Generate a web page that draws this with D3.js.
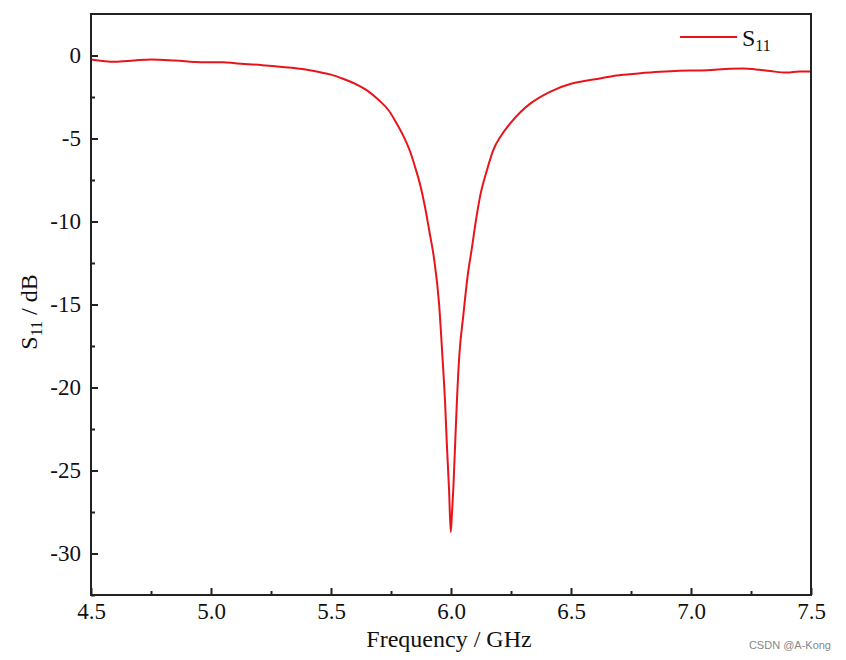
<!DOCTYPE html>
<html>
<head>
<meta charset="utf-8">
<script src="https://cdn.jsdelivr.net/npm/d3@7"></script>
<style>
  html, body { margin: 0; padding: 0; background: #fff; }
  svg text { font-family: "Liberation Serif", "Times New Roman", serif; fill: #111; }
</style>
</head>
<body>
<div id="chart"></div>
<script>
// Frequency (GHz) and S11 (dB)
const freq = [4.50, 4.60, 4.68, 4.75, 4.85, 4.96, 5.05, 5.10, 5.24, 5.38, 5.45, 5.50, 5.55, 5.60,
  5.65, 5.70, 5.74, 5.77, 5.80, 5.83, 5.85, 5.87, 5.89, 5.91, 5.93, 5.95, 5.965, 5.975, 5.983,
  5.992, 5.999, 6.004, 6.010, 6.017, 6.025, 6.035, 6.051, 6.07, 6.086, 6.10, 6.121, 6.15, 6.176,
  6.21, 6.246, 6.29, 6.33, 6.41, 6.50, 6.55, 6.62, 6.69, 6.78, 6.87, 6.95, 7.04, 7.10, 7.16,
  7.22, 7.27, 7.33, 7.40, 7.45, 7.50];
const s11 = [-0.24, -0.38, -0.30, -0.24, -0.30, -0.40, -0.40, -0.46, -0.62, -0.82, -1.0, -1.15, -1.4, -1.7,
  -2.1, -2.7, -3.3, -4.0, -4.8, -5.8, -6.7, -7.7, -9.0, -10.6, -12.3, -14.9, -18.3, -20.8, -23.5,
  -26.2, -28.7, -27.6, -26.0, -23.5, -20.7, -18.0, -15.7, -13.2, -11.7, -10.3, -8.5, -6.9, -5.7,
  -4.8, -4.1, -3.4, -2.9, -2.2, -1.7, -1.55, -1.38, -1.2, -1.08, -0.98, -0.92, -0.9, -0.86, -0.8,
  -0.78, -0.84, -0.94, -1.03, -0.97, -0.96];

const xTicks = [4.5, 5.0, 5.5, 6.0, 6.5, 7.0, 7.5];
const yTicks = [0, -5, -10, -15, -20, -25, -30];
const seriesName = "S";
const seriesSub = "11";

const width = 846, height = 660;
const margin = { top: 14, right: 35, bottom: 65, left: 91 };
const serif = '"Liberation Serif", "Times New Roman", serif';

const svg = d3.select('#chart').append('svg')
  .attr('width', width)
  .attr('height', height);

const x = d3.scaleLinear().domain([4.5, 7.5]).range([margin.left, width - margin.right]);
const y = d3.scaleLinear().domain([-32.5, 2.5]).range([height - margin.bottom, margin.top]);

const data = freq.map((f, i) => ({ f, v: s11[i] }));

// Curve
const line = d3.line()
  .x(d => x(d.f))
  .y(d => y(d.v))
  .curve(d3.curveMonotoneX);

svg.append('path')
  .datum(data)
  .attr('fill', 'none')
  .attr('stroke', '#e8141b')
  .attr('stroke-width', 2)
  .attr('stroke-linejoin', 'round')
  .attr('d', line);

// Axes (inward ticks)
const xAxis = svg.append('g')
  .attr('transform', `translate(0,${y.range()[0]})`)
  .call(d3.axisBottom(x).tickValues(xTicks).tickFormat(d3.format('.1f')).tickSize(-7).tickPadding(8));
const xMinor = svg.append('g')
  .attr('transform', `translate(0,${y.range()[0]})`)
  .call(d3.axisBottom(x).tickValues(xTicks.slice(0, -1).map(t => t + 0.25)).tickFormat('').tickSize(-4));

const yAxis = svg.append('g')
  .attr('transform', `translate(${x.range()[0]},0)`)
  .call(d3.axisLeft(y).tickValues(yTicks).tickFormat(d => String(d)).tickSize(-7).tickPadding(10));
const yMinor = svg.append('g')
  .attr('transform', `translate(${x.range()[0]},0)`)
  .call(d3.axisLeft(y).tickValues(yTicks.map(t => t - 2.5)).tickFormat('').tickSize(-4));

[xAxis, xMinor, yAxis, yMinor].forEach(g => {
  g.attr('font-family', serif);
  g.select('.domain').remove();
  g.selectAll('line').attr('stroke', '#222').attr('stroke-width', 2);
  g.selectAll('text').style('font-size', '23px').style('font-family', serif).attr('fill', '#111');
});

// Frame
svg.append('rect')
  .attr('x', x.range()[0])
  .attr('y', y.range()[1])
  .attr('width', x.range()[1] - x.range()[0])
  .attr('height', y.range()[0] - y.range()[1])
  .attr('fill', 'none')
  .attr('stroke', '#222')
  .attr('stroke-width', 2);

// Axis titles
svg.append('text')
  .attr('x', 449)
  .attr('y', 647)
  .attr('text-anchor', 'middle')
  .style('font-size', '24px')
  .text('Frequency / GHz');

const yt = svg.append('text')
  .attr('transform', `translate(37,312) rotate(-90)`)
  .attr('text-anchor', 'middle')
  .style('font-size', '24px');
yt.append('tspan').text('S');
yt.append('tspan').attr('dy', 5).style('font-size', '16px').text('11');
yt.append('tspan').attr('dy', -5).text(' / dB');

// Legend
svg.append('line')
  .attr('x1', 680).attr('x2', 737)
  .attr('y1', 37).attr('y2', 37)
  .attr('stroke', '#e8141b')
  .attr('stroke-width', 2);
const lt = svg.append('text')
  .attr('x', 742)
  .attr('y', 46)
  .style('font-size', '24px');
lt.append('tspan').text(seriesName);
lt.append('tspan').attr('dy', 5).style('font-size', '16px').text(seriesSub);

// Watermark
svg.append('text')
  .attr('x', 831)
  .attr('y', 649)
  .attr('text-anchor', 'end')
  .style('font-family', '"Liberation Sans", Arial, sans-serif')
  .style('font-size', '11px')
  .style('fill', '#888')
  .text('CSDN @A-Kong');
</script>
</body>
</html>
